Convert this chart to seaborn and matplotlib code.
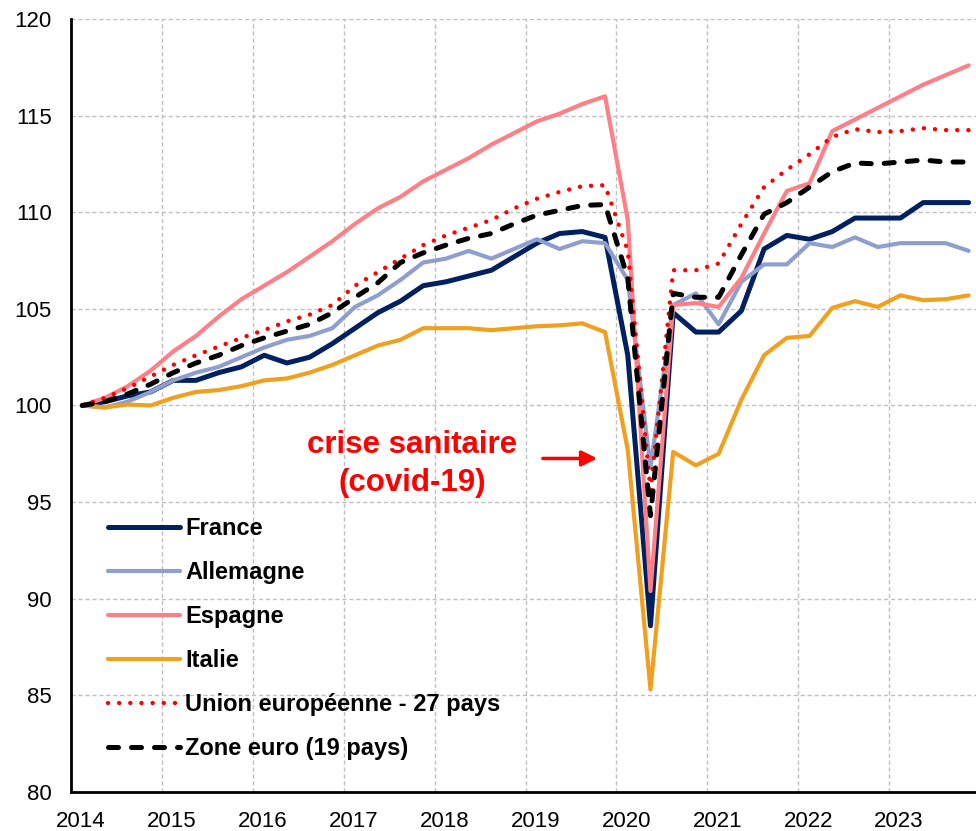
import numpy as np
import pandas as pd
import matplotlib
matplotlib.use("Agg")
import matplotlib.pyplot as plt
import matplotlib.transforms as mtransforms
import seaborn as sns

# PIB trimestriel, base 100 au 1er trimestre 2014
trimestres = pd.period_range("2014Q1", "2023Q4", freq="Q")

france = [100, 100.2, 100.5, 100.7, 101.3, 101.3, 101.7, 102.0, 102.6, 102.2,
          102.5, 103.2, 104.0, 104.8, 105.4, 106.2, 106.4, 106.7, 107.0, 107.7,
          108.4, 108.9, 109.0, 108.7, 102.6, 88.6, 104.8, 103.8, 103.8, 104.9,
          108.1, 108.8, 108.6, 109.0, 109.7, 109.7, 109.7, 110.5, 110.5, 110.5]
allemagne = [100, 99.9, 100.2, 100.7, 101.3, 101.7, 102.0, 102.5, 103.0, 103.4,
             103.6, 104.0, 105.1, 105.7, 106.5, 107.4, 107.6, 108.0, 107.6, 108.1,
             108.6, 108.1, 108.5, 108.4, 106.5, 96.8, 105.2, 105.8, 104.2, 106.4,
             107.3, 107.3, 108.4, 108.2, 108.7, 108.2, 108.4, 108.4, 108.4, 108.0]
espagne = [100, 100.4, 101.0, 101.8, 102.8, 103.6, 104.6, 105.5, 106.2, 106.9,
           107.7, 108.5, 109.4, 110.2, 110.8, 111.6, 112.2, 112.8, 113.5, 114.1,
           114.7, 115.1, 115.6, 116.0, 109.6, 90.4, 105.2, 105.3, 105.1, 106.6,
           108.9, 111.1, 111.5, 114.2, 114.8, 115.4, 116.0, 116.6, 117.1, 117.6]
italie = [100, 99.9, 100.05, 100.0, 100.4, 100.7, 100.8, 101.0, 101.3, 101.4,
          101.7, 102.1, 102.6, 103.1, 103.4, 104.0, 104.0, 104.0, 103.9, 104.0,
          104.1, 104.15, 104.25, 103.8, 97.7, 85.3, 97.6, 96.9, 97.5, 100.3,
          102.6, 103.5, 103.6, 105.05, 105.4, 105.1, 105.7, 105.45, 105.5, 105.7]
ue27 = [100, 100.4, 100.9, 101.5, 102.1, 102.6, 103.05, 103.5, 103.9, 104.35,
        104.7, 105.2, 106.2, 106.9, 107.6, 108.3, 108.8, 109.2, 109.6, 110.2,
        110.7, 111.05, 111.35, 111.4, 108.0, 95.6, 107.0, 107.0, 107.35, 109.4,
        111.3, 112.2, 113.0, 113.9, 114.3, 114.15, 114.2, 114.35, 114.25, 114.25]
zone_euro = [100, 100.2, 100.6, 101.1, 101.7, 102.2, 102.6, 103.1, 103.5, 103.85,
             104.2, 104.8, 105.6, 106.35, 107.4, 107.9, 108.3, 108.65, 108.9, 109.4,
             109.85, 110.1, 110.35, 110.4, 106.6, 94.3, 105.8, 105.6, 105.6, 107.8,
             109.9, 110.5, 111.3, 112.1, 112.55, 112.5, 112.6, 112.7, 112.6, 112.6]

# milieu de chaque trimestre en annee decimale
x = np.array([p.year + (p.quarter - 1) / 4 + 0.125 for p in trimestres])

series = [
    ("France", france, "#002060", "-", 3.6),
    ("Allemagne", allemagne, "#8E9FCE", "-", 3.0),
    ("Espagne", espagne, "#FF7F86", "-", 3.0),
    ("Italie", italie, "#F0A01E", "-", 3.0),
    ("Union européenne - 27 pays", ue27, "#FF0000", (0, (0.01, 2.5)), 3.2),
    ("Zone euro (19 pays)", zone_euro, "#000000", (0, (2.0, 2.6)), 3.6),
]

sns.set_style("white")
plt.rcParams["font.family"] = ["Liberation Sans", "DejaVu Sans"]
plt.rcParams["text.color"] = "black"

fig = plt.figure(figsize=(9.76, 8.31), dpi=100)
ax = fig.add_axes([71 / 976, 39 / 831, 909 / 976, 773 / 831])

for name, vals, col, ls, lw in series:
    sns.lineplot(x=x, y=vals, ax=ax, color=col, linestyle=ls, linewidth=lw,
                 label=name, dash_capstyle="round", solid_capstyle="round")

ax.set_xlim(2014, 2024)
ax.set_ylim(80, 120)
ax.set_xticks(range(2014, 2024))
ax.set_yticks(range(80, 121, 5))
ax.tick_params(axis="both", labelsize=16, colors="black")
ax.tick_params(axis="x", direction="out", length=6, width=1.5, pad=8)
ax.tick_params(axis="y", direction="out", length=0, pad=14)
shift = mtransforms.ScaledTranslation(0.10, 0, fig.dpi_scale_trans)
for lab in ax.get_xticklabels():
    lab.set_transform(lab.get_transform() + shift)

ax.grid(True, color="#BFBFBF", linestyle=(0, (3, 2)), linewidth=1)
sns.despine(ax=ax, top=True, right=True)
for s in ("left", "bottom"):
    ax.spines[s].set_color("black")
    ax.spines[s].set_linewidth(2)

ax.set_xlabel("")
ax.set_ylabel("")

leg = ax.legend(loc="upper left", bbox_to_anchor=(0.041, 0.356), frameon=False,
                prop={"weight": "bold", "size": 17}, handlelength=3.05,
                handletextpad=0.2, labelspacing=0.89, borderaxespad=0, borderpad=0)
for t in leg.get_texts():
    t.set_color("black")

ax.text(2017.75, 96.98, "crise sanitaire\n(covid-19)", color="#FF0000",
        fontsize=22.5, fontweight="bold", ha="center", va="center",
        linespacing=1.37)
ax.annotate("", xy=(2019.82, 97.26), xytext=(2019.16, 97.26),
            arrowprops=dict(arrowstyle="-|>", color="#FF0000", lw=2.5,
                            mutation_scale=23))

fig.savefig("out.png", dpi=100)
